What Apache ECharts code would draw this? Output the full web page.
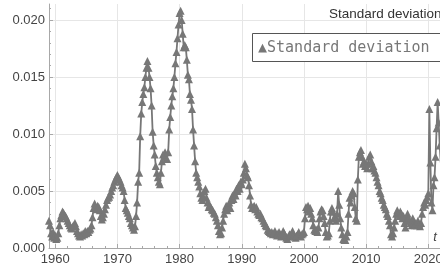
<!DOCTYPE html>
<html><head><meta charset="utf-8">
<script src="https://cdn.jsdelivr.net/npm/echarts@6/dist/echarts.min.js"></script>
<style>html,body{margin:0;padding:0;background:#fff}#c{width:440px;height:271px}</style>
</head><body><div id="c"></div>
<script>
const startYear = 1959;
const pointsPerYear = 6;
const sd1950s = [0.0024,0.0020,0.0013,0.0010,0.0014,0.0009];
const sd1960s = [
 0.0011,0.0008,0.0009,0.0013,0.0020,0.0026,
 0.0029,0.0032,0.0031,0.0029,0.0028,0.0026,
 0.0024,0.0022,0.0020,0.0018,0.0017,0.0019,
 0.0020,0.0022,0.0019,0.0015,0.0013,0.0011,
 0.0010,0.0012,0.0011,0.0013,0.0012,0.0015,
 0.0013,0.0015,0.0014,0.0016,0.0017,0.0020,
 0.0027,0.0035,0.0039,0.0036,0.0034,0.0037,
 0.0036,0.0033,0.0028,0.0025,0.0027,0.0030,
 0.0034,0.0038,0.0042,0.0044,0.0045,0.0047,
 0.0050,0.0053,0.0055,0.0058,0.0060,0.0062];
const sd1970s = [
 0.0064,0.0062,0.0060,0.0058,0.0055,0.0053,
 0.0050,0.0042,0.0035,0.0033,0.0031,0.0028,
 0.0026,0.0022,0.0020,0.0018,0.0016,0.0019,
 0.0028,0.0040,0.0058,0.0066,0.0098,0.0118,
 0.0128,0.0135,0.0141,0.0150,0.0158,0.0164,
 0.0158,0.0150,0.0140,0.0125,0.0102,0.0090,
 0.0082,0.0072,0.0066,0.0062,0.0058,0.0056,
 0.0066,0.0076,0.0082,0.0080,0.0084,0.0078,
 0.0078,0.0084,0.0104,0.0115,0.0125,0.0133,
 0.0140,0.0150,0.0162,0.0172,0.0184,0.0196];
const sd1980s = [
 0.0206,0.0208,0.0200,0.0188,0.0176,0.0178,
 0.0176,0.0165,0.0152,0.0148,0.0135,0.0130,
 0.0122,0.0104,0.0090,0.0076,0.0066,0.0062,
 0.0058,0.0054,0.0048,0.0044,0.0042,0.0045,
 0.0050,0.0052,0.0044,0.0040,0.0036,0.0038,
 0.0036,0.0034,0.0033,0.0031,0.0030,0.0027,
 0.0024,0.0020,0.0015,0.0012,0.0013,0.0018,
 0.0024,0.0030,0.0034,0.0037,0.0033,0.0036,
 0.0040,0.0035,0.0042,0.0046,0.0043,0.0048,
 0.0046,0.0052,0.0050,0.0055,0.0052,0.0058];
const sd1990s = [
 0.0056,0.0060,0.0066,0.0074,0.0070,0.0064,
 0.0062,0.0055,0.0046,0.0038,0.0035,0.0036,
 0.0037,0.0034,0.0036,0.0032,0.0030,0.0029,
 0.0030,0.0027,0.0026,0.0024,0.0022,0.0020,
 0.0019,0.0016,0.0015,0.0014,0.0013,0.0014,
 0.0012,0.0013,0.0015,0.0012,0.0011,0.0013,
 0.0014,0.0012,0.0010,0.0012,0.0015,0.0013,
 0.0011,0.0009,0.0008,0.0010,0.0012,0.0011,
 0.0013,0.0015,0.0012,0.0010,0.0009,0.0011,
 0.0012,0.0014,0.0011,0.0010,0.0012,0.0013];
const sd2000s = [
 0.0014,0.0026,0.0036,0.0034,0.0037,0.0032,
 0.0035,0.0030,0.0026,0.0020,0.0016,0.0015,
 0.0016,0.0014,0.0018,0.0026,0.0032,0.0034,
 0.0033,0.0028,0.0022,0.0014,0.0010,0.0011,
 0.0013,0.0024,0.0032,0.0035,0.0032,0.0026,
 0.0028,0.0024,0.0030,0.0050,0.0038,0.0026,
 0.0018,0.0012,0.0008,0.0007,0.0007,0.0010,
 0.0014,0.0030,0.0044,0.0040,0.0046,0.0050,
 0.0048,0.0036,0.0026,0.0024,0.0060,0.0080,
 0.0084,0.0086,0.0080,0.0074,0.0076,0.0072];
const sd2010s = [
 0.0074,0.0070,0.0074,0.0080,0.0082,0.0076,
 0.0070,0.0072,0.0068,0.0066,0.0062,0.0058,
 0.0055,0.0050,0.0048,0.0044,0.0042,0.0038,
 0.0036,0.0034,0.0030,0.0028,0.0024,0.0020,
 0.0012,0.0010,0.0013,0.0018,0.0024,0.0030,
 0.0033,0.0030,0.0028,0.0032,0.0030,0.0026,
 0.0028,0.0022,0.0018,0.0024,0.0030,0.0026,
 0.0024,0.0022,0.0020,0.0026,0.0023,0.0020,
 0.0022,0.0020,0.0024,0.0021,0.0019,0.0022,
 0.0030,0.0036,0.0040,0.0038,0.0042,0.0045];
const sd2020s = [
 0.0048,0.0122,0.0075,0.0040,0.0033,0.0055,
 0.0062,0.0080,0.0105,0.0128,0.0110,0.0090,
 0.0075];

const xMajorTicks = [1960,1970,1980,1990,2000,2010,2020];
const xMinorTicks = [1962,1964,1966,1968,1972,1974,1976,1978,1982,1984,1986,1988,1992,1994,1996,1998,2002,2004,2006,2008,2012,2014,2016,2018];
const yMajorTicks = [0,0.005,0.010,0.015,0.020];
const yMinorTicks = [0.001,0.002,0.003,0.004,0.006,0.007,0.008,0.009,0.011,0.012,0.013,0.014,0.016,0.017,0.018,0.019,0.021];

const sdValues = [].concat(sd1950s, sd1960s, sd1970s, sd1980s, sd1990s, sd2000s, sd2010s, sd2020s);
const seriesData = sdValues.map((v, i) => [startYear + i / pointsPerYear, v]);

const axisGray = '#a8a8a8';
const gridGray = '#e6e6e6';
const labelFont = {color:'#444', fontSize:13, fontFamily:'Liberation Sans, Arial, sans-serif'};

const chart = echarts.init(document.getElementById('c'), null, {renderer:'canvas'});
chart.setOption({
  animation:false,
  backgroundColor:'#fff',
  title:{text:'Standard deviation', left:329, top:7, padding:0,
    textStyle:{fontSize:13.5, fontWeight:'normal', color:'#333', fontFamily:'Liberation Sans, Arial, sans-serif'}},
  grid:{left:49, right:0, top:4, bottom:23, containLabel:false, outerBoundsMode:'none'},
  xAxis:[
    {type:'value', min:1959, max:2021.88, position:'bottom',
     axisLine:{show:true, onZero:false, lineStyle:{color:axisGray, width:1}},
     axisTick:{show:true, inside:true, length:4, customValues:xMajorTicks, lineStyle:{color:axisGray}},
     axisLabel:Object.assign({customValues:xMajorTicks, margin:5, formatter:v=>String(Math.round(v))}, labelFont),
     splitLine:{show:true, lineStyle:{color:gridGray, width:1}},
     minorTick:{show:false}},
    {type:'value', min:1959, max:2021.88, position:'bottom',
     axisLine:{show:false, onZero:false},
     axisTick:{show:true, inside:true, length:2, customValues:xMinorTicks, lineStyle:{color:axisGray}},
     axisLabel:{show:false}, splitLine:{show:false}}
  ],
  yAxis:[
    {type:'value', min:0, max:0.0214, position:'left',
     axisLine:{show:true, onZero:false, lineStyle:{color:axisGray, width:1}},
     axisTick:{show:true, inside:true, length:4, customValues:yMajorTicks, lineStyle:{color:axisGray}},
     axisLabel:Object.assign({customValues:yMajorTicks, margin:4, formatter:v=>v.toFixed(3)}, labelFont),
     splitLine:{show:true, lineStyle:{color:gridGray, width:1}},
     minorTick:{show:false}},
    {type:'value', min:0, max:0.0214, position:'left',
     axisLine:{show:false, onZero:false},
     axisTick:{show:true, inside:true, length:2, customValues:yMinorTicks, lineStyle:{color:axisGray}},
     axisLabel:{show:false}, splitLine:{show:false}}
  ],
  graphic:[
    {type:'rect', z:100, shape:{x:252.5, y:33.5, width:220, height:28},
     style:{fill:'#fff', stroke:'#555', lineWidth:1}},
    {type:'text', z:101, x:258, y:48,
     style:{text:'▲Standard deviation', font:'15px "DejaVu Sans Mono", monospace', fill:'#777', verticalAlign:'middle', align:'left'}},
    {type:'text', z:101, x:435, y:237,
     style:{text:'t', font:'italic 13px "Liberation Sans", Arial, sans-serif', fill:'#444', verticalAlign:'middle', align:'center'}}
  ],
  series:[{
    name:'Standard deviation', type:'line', xAxisIndex:0, yAxisIndex:0,
    data:seriesData, symbol:'triangle', symbolSize:8, showAllSymbol:true,
    lineStyle:{color:'#777', width:1.8}, itemStyle:{color:'#777'}, clip:true
  }]
});
</script></body></html>
